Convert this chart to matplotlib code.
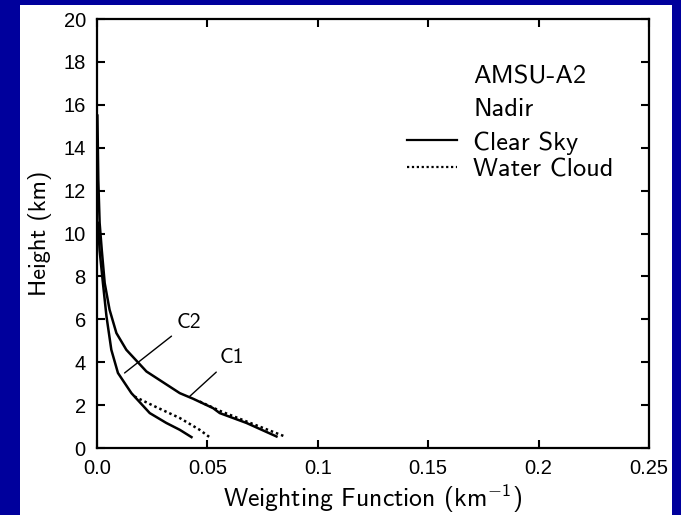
import matplotlib.pyplot as plt
from matplotlib.patches import Rectangle
from matplotlib.lines import Line2D

plt.rcParams['mathtext.fontset'] = 'custom'
plt.rcParams['mathtext.rm'] = 'cmss10'
plt.rcParams['mathtext.it'] = 'cmss10'
plt.rcParams['axes.unicode_minus'] = False

# weighting function curves (x in km^-1, height in km)
c1_clear_x = [0.0002, 0.0006, 0.0012, 0.0022, 0.0035, 0.0057, 0.0088, 0.0133, 0.0224, 0.0375,
              0.0435, 0.0526, 0.0556, 0.0677, 0.0813]
c1_clear_h = [15.5, 12.5, 10.5, 9.2, 7.69, 6.45, 5.36, 4.58, 3.57, 2.56,
              2.30, 1.86, 1.63, 1.17, 0.54]
c1_cloud_x = [0.0465, 0.0560, 0.0677, 0.0851]
c1_cloud_h = [2.17, 1.72, 1.24, 0.54]

c2_clear_x = [0.0005, 0.0012, 0.0027, 0.0043, 0.0065, 0.0095, 0.0156, 0.0239, 0.0314, 0.0375, 0.0428]
c2_clear_h = [10.5, 9.2, 7.69, 6.14, 4.58, 3.50, 2.56, 1.63, 1.17, 0.85, 0.51]
c2_cloud_x = [0.0170, 0.0260, 0.0375, 0.0465, 0.0511]
c2_cloud_h = [2.40, 1.95, 1.40, 0.85, 0.50]

xticks = [0.0, 0.05, 0.1, 0.15, 0.2, 0.25]
xtick_labels = ["0.0", "0.05", "0.1", "0.15", "0.2", "0.25"]
yticks = list(range(0, 21, 2))

navy = '#00009c'
fig = plt.figure(figsize=(6.81, 5.15), dpi=100)
fig.patch.set_facecolor(navy)
fig.patches.append(Rectangle((0.0294, 0), 0.9574, 0.990, transform=fig.transFigure,
                             facecolor='white', edgecolor='none', zorder=-5))

ax = fig.add_axes([0.1424, 0.130, 0.8106, 0.833])
ax.set_facecolor('white')

lw = 1.8
dots = (0, (1, 1.2))
ax.plot(c1_clear_x, c1_clear_h, color='black', lw=lw)
ax.plot(c2_clear_x, c2_clear_h, color='black', lw=lw)
ax.plot(c1_cloud_x, c1_cloud_h, color='black', lw=lw, ls=dots)
ax.plot(c2_cloud_x, c2_cloud_h, color='black', lw=lw, ls=dots)

# curve labels
ax.annotate("C2", xy=(0.0125, 3.50), xytext=(0.0360, 5.85), fontsize=15.5, family='cmss10',
            va='center', ha='left',
            arrowprops=dict(arrowstyle='-', color='black', lw=1.0, shrinkA=2, shrinkB=0))
ax.annotate("C1", xy=(0.0420, 2.41), xytext=(0.0555, 4.2), fontsize=15.5, family='cmss10',
            va='center', ha='left',
            arrowprops=dict(arrowstyle='-', color='black', lw=1.0, shrinkA=2, shrinkB=0))

# legend block
ax.text(0.1704, 17.32, "AMSU-A2", fontsize=19, family='cmss10', va='center', ha='left')
ax.text(0.1704, 15.80, "Nadir", fontsize=19, family='cmss10', va='center', ha='left')
handles = [Line2D([], [], color='black', lw=1.6),
           Line2D([], [], color='black', lw=1.6, ls=dots)]
ax.legend(handles, ["Clear Sky", "Water Cloud"], loc='upper left',
          bbox_to_anchor=(0.561, 0.739), frameon=False,
          prop={'family': 'cmss10', 'size': 19}, handlelength=1.9,
          handletextpad=0.6, labelspacing=0.13, borderaxespad=0, borderpad=0)

ax.set_xlim(0, 0.25)
ax.set_ylim(0, 20)
ax.set_xticks(xticks)
ax.set_xticklabels(xtick_labels)
ax.set_yticks(yticks)
ax.tick_params(direction='in', length=6, width=1.5, top=True, right=True,
               labelsize=14.5, pad=8)
for lab in ax.get_xticklabels() + ax.get_yticklabels():
    lab.set_family('Liberation Sans')
for s in ax.spines.values():
    s.set_linewidth(1.6)

ax.set_xlabel("Weighting Function (km$^{-1}$)", fontsize=18.5, family='cmss10', labelpad=3)
ax.set_ylabel("Height (km)", fontsize=17.5, family='cmss10', labelpad=8)

fig.savefig("out.png", dpi=100, facecolor=fig.get_facecolor())
